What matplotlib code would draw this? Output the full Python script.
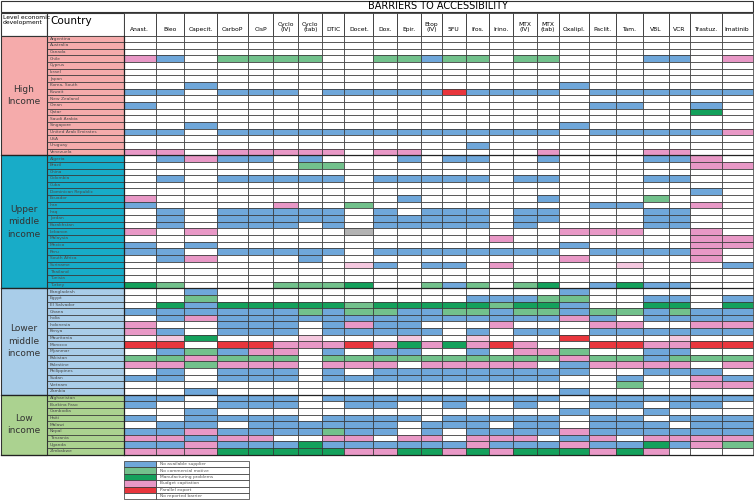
import matplotlib
matplotlib.use('Agg')
import matplotlib.pyplot as plt
from matplotlib.patches import Rectangle

# -------------------------------
# Data
# -------------------------------
drugs = ['Anast.', 'Bleo', 'Capecit.', 'CarboP', 'CisP', 'Cyclo\n(IV)', 'Cyclo\n(tab)', 'DTIC',
         'Docet.', 'Dox.', 'Epir.', 'Etop\n(IV)', '5FU', 'Ifos.', 'Irino.', 'MTX\n(IV)', 'MTX\n(tab)',
         'Oxalipl.', 'Paclit.', 'Tam.', 'VBL', 'VCR', 'Trastuz.', 'Imatinib']

groups = ['High\nIncome', 'Upper\nmiddle\nincome', 'Lower\nmiddle\nincome', 'Low\nincome']

# B no available supplier, G no commercial motive, D manufacturing problems,
# P budget, R parallel export, W no reported barrier, p light pink, X grey
high_income = [
    ('Argentina',            'WWWWWWWWWWWW' 'WWWWWWWWWWWW'),
    ('Australia',            'WWWWWWWWWWWW' 'WWWWWWWWWWWW'),
    ('Canada',               'WWWWWWWWWWWW' 'WWWWWWWWWWWW'),
    ('Chile',                'PBWGGGGWWGGB' 'GGWGGWWWBBWP'),
    ('Cyprus',               'WWWWWWWWWWWW' 'WWWWWWWWWWWW'),
    ('Israel',               'WWWWWWWWWWWW' 'WWWWWWWWWWWW'),
    ('Japan',                'WWWWWWWWWWWW' 'WWWWWWWWWWWW'),
    ('Korea, South',         'WWBWWWWWWWWW' 'WWWWWBWWWWWW'),
    ('Kuwait',               'BBWBBBWBBBBB' 'RBBBBWBBBBBB'),
    ('New Zealand',          'WWWWWWWWWWWW' 'WWWWWWWWWWWW'),
    ('Oman',                 'BWWWWWWWWWWW' 'WWWWWWBBWWBW'),
    ('Qatar',                'WWWWWWWWWWWW' 'WWWWWWWWWWDW'),
    ('Saudi Arabia',         'WWWWWWWWWWWW' 'WWWWWWWWWWWW'),
    ('Singapore',            'WWBWWWWWWWWW' 'WWWWWBWWWWWW'),
    ('United Arab Emirates', 'BBWBBBBBBBBB' 'BBBBBWBBBBBP'),
    ('USA',                  'WWWWWWWWWWWW' 'WWWWWWWWWWWW'),
    ('Uruguay',              'WWWWWWWWWWWW' 'WBWWWWWWWWWW'),
    ('Venezuela',            'PPWPPPPPWPPW' 'WWWWPWWWPPWW'),
]

upper_middle = [
    ('Algeria',              'WBPBBWBWWWBW' 'BBWWBWWWBBPW'),
    ('Brazil',               'WWWWWWGGWWWW' 'WWWWWWWWWWPP'),
    ('China',                'WWWWWWWWWWWW' 'WWWWWWWWWWWW'),
    ('Colombia',             'WBWBBBBBWBBB' 'BBWBBWWWBBWW'),
    ('Cuba',                 'WWWWWWWWWWWW' 'WWWWWWWWWWWW'),
    ('Dominican Republic',   'WWWWWWWWWWWW' 'WWWWWWWWWWBW'),
    ('Ecuador',              'PWWWWWWWWWBW' 'WWWWBWWWGWWW'),
    ('Iran',                 'BWWWWPWWGWWW' 'WWWWWWBBWWPW'),
    ('Iraq',                 'WBWBBBBBWBWB' 'BBWBBWWWBBWW'),
    ('Jordan',               'WBWBBBBBWBBB' 'BBWBBWWWBBWW'),
    ('Kazakhstan',           'WBWBBBWBWBBB' 'BBWBWWWWBBWW'),
    ('Lebanon',              'PWPWWWWWXWWW' 'WWWWWPPPWWPW'),
    ('Malaysia',             'WWWWWWWWWWWW' 'WWPWWWWWWWPP'),
    ('Mexico',               'BWBWWWWWWWWW' 'WWWWWBWWWWPP'),
    ('Peru',                 'BBWBBBBBWBBB' 'BBBBBWBBBBPW'),
    ('South Africa',         'WBPWWWBWWWWW' 'WWWWWPWWWWPW'),
    ('Suriname',             'WWWWWWWWpBWB' 'BWPWWWWpWWWB'),
    ('Thailand',             'WWWWWWWWWWWW' 'WWWWWWWWWWWW'),
    ('Tunisia',              'WWWWWWWWWWWW' 'WWWWWWWWWWWW'),
    ('Turkey',               'DGWWWGGGDWWG' 'BGWGDWBDBBWW'),
]

lower_middle = [
    ('Bangladesh',           'WWBWWWWWWWWW' 'WWWWWBWWWWWW'),
    ('Egypt',                'WWGWWWWWWWWW' 'WBBBGGWWBBWB'),
    ('El Salvador',          'WDBDDDDDGDDD' 'DDGDDBWWDDWD'),
    ('Ghana',                'BBBBBBGBGGBB' 'GGBGGBGGBGBB'),
    ('India',                'WBPBBBBBBBBB' 'BBBBBPBWBBBB'),
    ('Indonesia',            'PWWBBBWBPBBW' 'WWPWWWPPWWPP'),
    ('Kenya',                'PBWBBBWBBBBB' 'WBWBBWBBBBBB'),
    ('Mauritania',           'WpDWWWpWWWpW' 'WpWWWRWWWpWW'),
    ('Morocco',              'RRWRRPPPRPDP' 'DPRPWWRRPPRR'),
    ('Myanmar',              'WBGBPPWBWBBW' 'WBWPPGWWBBWW'),
    ('Pakistan',             'GGPGGGWGGGGG' 'GGGGGPGGBGGG'),
    ('Palestine',            'PPGPPPWPPPWP' 'PPPPWBPPPPWP'),
    ('Philippines',          'WBWBBBWBWBBB' 'BBBBBBWWBBBW'),
    ('Sudan',                'BBWBBBWBBBBB' 'BBBBBWWBWWPB'),
    ('Vietnam',              'WWWWWWWWWWWW' 'WWWWWWWGWWPP'),
    ('Zambia',               'WWBWWWWWWWWW' 'WWWWWBWWWWWW'),
]

low_income = [
    ('Afghanistan',          'BBWBBBWBBBBB' 'BBBBBWBBBBBB'),
    ('Burkina Faso',         'BWWBBBWWBBWW' 'BWWBWWBBWBBW'),
    ('Cambodia',             'WWBWWWWWWWWW' 'WWWWWBWWBWWW'),
    ('Haiti',                'BWBBBBWBBBBW' 'BBBBBWBBWBBB'),
    ('Malawi',               'WBBWBBBBBBWB' 'BBWBBWBBBWBB'),
    ('Nepal',                'BBPBBBBGBBWB' 'WBBBBPBBBBBB'),
    ('Tanzania',             'PPBPPWWPPWPP' 'WPPPWBPWPPPP'),
    ('Uganda',               'BBPBBBDBBBBB' 'BPBBBPBBDBPG'),
    ('Zimbabwe',             'PPPDDDDDPPDD' 'PDPDDDPDPWWW'),
]

legend_codes = ['B', 'G', 'D', 'P', 'R', 'W']
legend_labels = ['No available supplier', 'No commercial motive', 'Manufacturing problems',
                 'Budget capitation', 'Parallel export', 'No reported barrier']

# -------------------------------
# Styles
# -------------------------------
cell_colors = {'B': '#6fa7da', 'G': '#72c18c', 'D': '#14a15c', 'P': '#e898c6',
               'R': '#e8363d', 'W': '#ffffff', 'p': '#f5c8df', 'X': '#b3b3b3'}
group_colors = ['#f5abab', '#18acc8', '#a9cde9', '#abd290']
line_col = '#333333'

col_edges = [124, 155.7, 184, 217.3, 248.3, 273.3, 298.3, 322.3, 344.3, 373.3, 397.3, 421,
             441.7, 465.7, 489.3, 512.7, 536.7, 559.3, 588.7, 615.7, 642.7, 668.7, 690,
             721.7, 752.5]
top, bottom = 35.5, 454.5
n_rows = len(high_income) + len(upper_middle) + len(lower_middle) + len(low_income)
rh = (bottom - top) / n_rows

# -------------------------------
# Figure
# -------------------------------
fig = plt.figure(figsize=(7.54, 5.01), dpi=100)
ax = fig.add_axes([0, 0, 1, 1])
ax.set_xlim(0, 754)
ax.set_ylim(501, 0)
ax.axis('off')

# title bar
ax.add_patch(Rectangle((1, 1), 751.5, 10.5, facecolor='white', edgecolor=line_col, lw=0.8))
ax.text(438, 6.3, 'BARRIERS TO ACCESSIBILITY', ha='center', va='center', fontsize=7)

# header row
ax.add_patch(Rectangle((1, 12.5), 46, 23, facecolor='white', edgecolor=line_col, lw=0.8))
ax.add_patch(Rectangle((47, 12.5), 77, 23, facecolor='white', edgecolor=line_col, lw=0.8))
ax.text(3, 20, 'Level economic\ndevelopment', ha='left', va='center', fontsize=4.3, linespacing=1.1)
ax.text(50, 21, 'Country', ha='left', va='center', fontsize=7.5)
for j, d in enumerate(drugs):
    x0, x1 = col_edges[j], col_edges[j + 1]
    ax.add_patch(Rectangle((x0, 12.5), x1 - x0, 23, facecolor='white', edgecolor=line_col, lw=0.6))
    ax.text((x0 + x1) / 2, 29 if '\n' not in d else 27, d, ha='center', va='center',
            fontsize=4.3, linespacing=1.0)

# body
row = 0
for g, block in enumerate([high_income, upper_middle, lower_middle, low_income]):
    gy = top + row * rh
    for country, codes in block:
        y = top + row * rh
        ax.add_patch(Rectangle((47, y), 77, rh, facecolor=group_colors[g], edgecolor=line_col, lw=0.5))
        ax.text(50, y + rh / 2, country, ha='left', va='center', fontsize=3.2, color='#4a4a4a')
        for j, c in enumerate(codes):
            x0, x1 = col_edges[j], col_edges[j + 1]
            ax.add_patch(Rectangle((x0, y), x1 - x0, rh, facecolor=cell_colors[c],
                                   edgecolor=line_col, lw=0.5))
        row += 1
    gh = len(block) * rh
    ax.add_patch(Rectangle((1, gy), 46, gh, facecolor=group_colors[g], edgecolor=line_col, lw=0.8))
    ax.text(24, gy + gh / 2, groups[g], ha='center', va='center', fontsize=6.5,
            color='#333333', linespacing=1.5)
    ax.plot([1, 752.5], [gy + gh, gy + gh], color='#222222', lw=0.9)

ax.plot([124, 124], [top, bottom], color='#222222', lw=0.9)

# legend
ly, lh = 461, 6.4
for k, (c, lab) in enumerate(zip(legend_codes, legend_labels)):
    y = ly + k * lh
    ax.add_patch(Rectangle((124, y), 31.5, lh, facecolor=cell_colors[c], edgecolor=line_col, lw=0.5))
    ax.add_patch(Rectangle((155.5, y), 93, lh, facecolor='white', edgecolor=line_col, lw=0.5))
    ax.text(160, y + lh / 2, lab, ha='left', va='center', fontsize=3.2, color='#555555')

fig.savefig('out.png', dpi=100)
